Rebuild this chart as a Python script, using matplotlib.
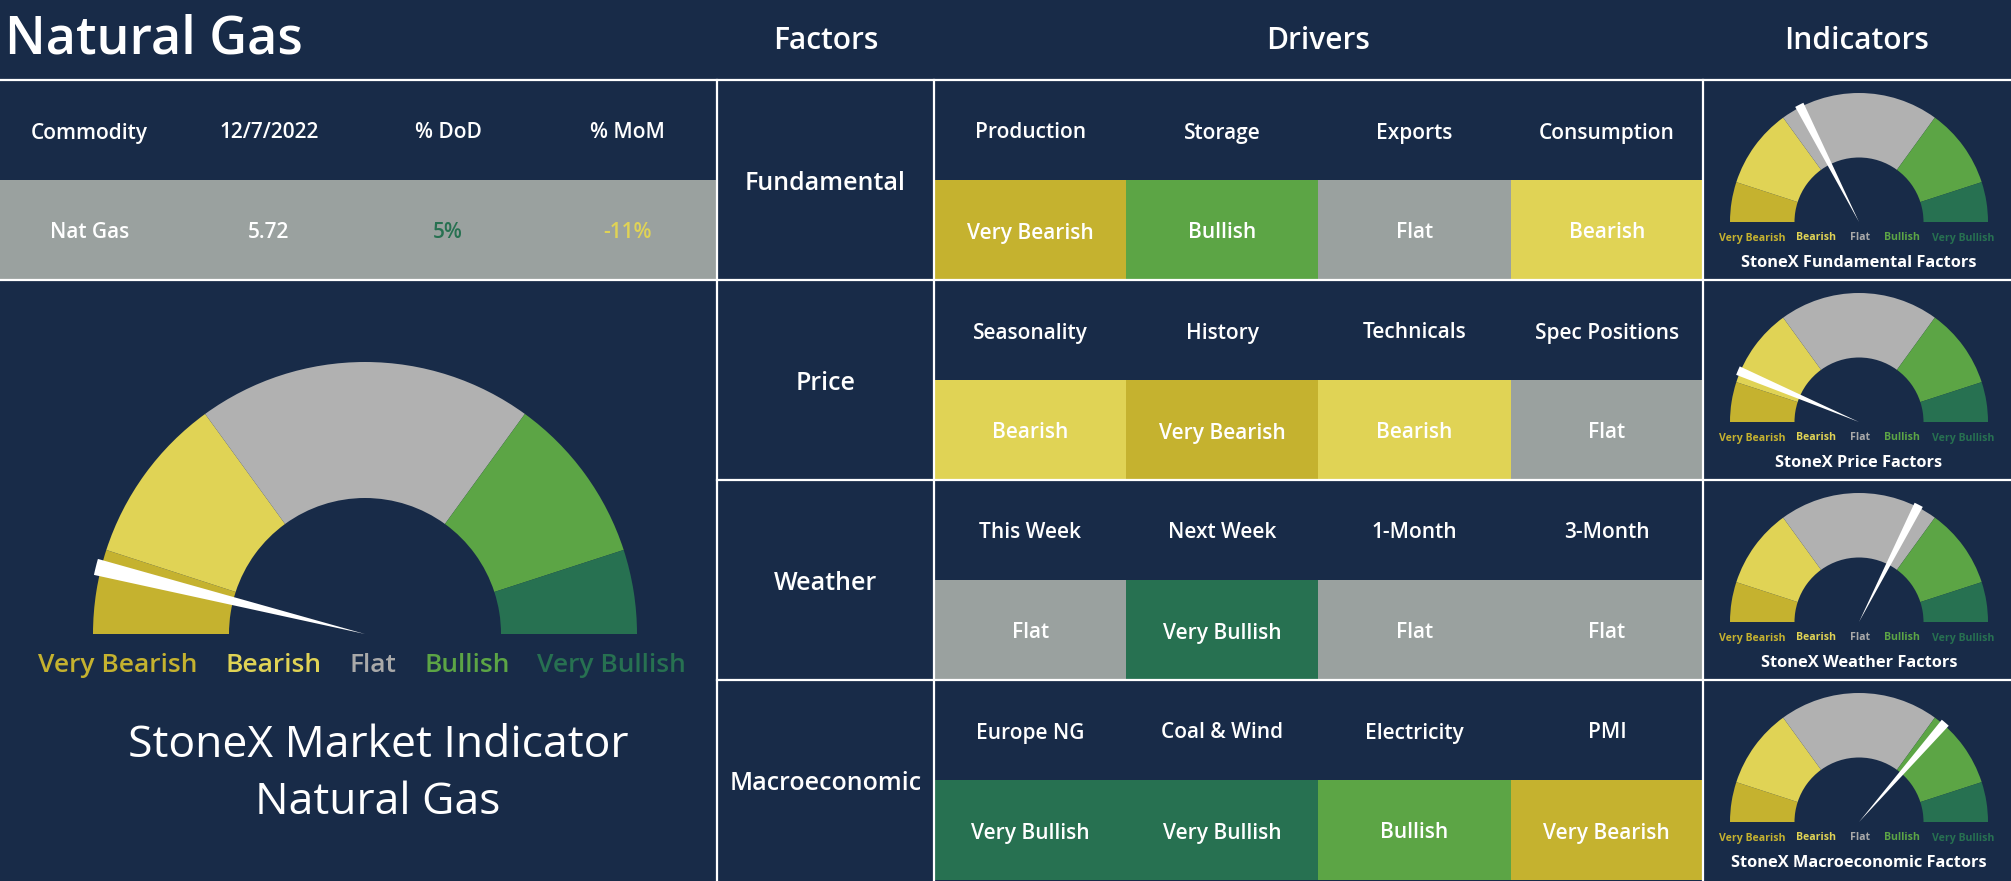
import matplotlib.pyplot as plt
from matplotlib.patches import Rectangle, Wedge

plt.rcParams['font.family'] = ['Open Sans', 'DejaVu Sans']

W, H = 2011, 881

title = "Natural Gas"
summary_headers = ["Commodity", "12/7/2022", "% DoD", "% MoM"]
summary_values = ["Nat Gas", "5.72", "5%", "-11%"]
section_headers = ["Factors", "Drivers", "Indicators"]
factors = ["Fundamental", "Price", "Weather", "Macroeconomic"]
drivers = [
    ["Production", "Storage", "Exports", "Consumption"],
    ["Seasonality", "History", "Technicals", "Spec Positions"],
    ["This Week", "Next Week", "1-Month", "3-Month"],
    ["Europe NG", "Coal & Wind", "Electricity", "PMI"],
]
ratings = [
    ["Very Bearish", "Bullish", "Flat", "Bearish"],
    ["Bearish", "Very Bearish", "Bearish", "Flat"],
    ["Flat", "Very Bullish", "Flat", "Flat"],
    ["Very Bullish", "Very Bullish", "Bullish", "Very Bearish"],
]
scale = ["Very Bearish", "Bearish", "Flat", "Bullish", "Very Bullish"]
scale_span = [18, 36, 72, 36, 18]      # degrees of the half dial
factor_needle = [63, 23, 117, 131]     # needle, degrees from the left end
market_needle = 14
indicator_titles = ["StoneX Fundamental Factors", "StoneX Price Factors",
                    "StoneX Weather Factors", "StoneX Macroeconomic Factors"]
market_title = "StoneX Market Indicator\nNatural Gas"

# ---- colours ----
NAVY = "#182B48"
cell_colors = {"Very Bearish": "#C5B22F", "Bearish": "#E0D355", "Flat": "#9AA19F",
               "Bullish": "#5CA545", "Very Bullish": "#277151"}
dial_colors = dict(cell_colors, Flat="#B1B1B1")
label_colors = dict(cell_colors, Flat="#A9A9A9")
value_colors = ["white", "white", "#277151", "#E0D355"]


def Y(y):
    return H - y


fig = plt.figure(figsize=(W / 100, H / 100), dpi=100, facecolor=NAVY)
ax = fig.add_axes([0, 0, 1, 1])
ax.set_xlim(0, W)
ax.set_ylim(0, H)
ax.axis('off')
ax.set_facecolor(NAVY)

x_left, x_fac, x_drv, x_ind = 0, 717, 934, 1703
col_w = (x_ind - x_drv) / 4
row_h = 200
top = 80
dy = 3  # small nudge so text sits where the reference has it

# title and section headers
ax.text(5, Y(40), title, color='white', fontsize=37.5, fontweight='semibold', va='center', ha='left')
for name, x in zip(section_headers, [(x_fac + x_drv) / 2, (x_drv + x_ind) / 2, (x_ind + W) / 2]):
    ax.text(x, Y(41), name, color='white', fontsize=21.5, fontweight='semibold', ha='center', va='center')

# summary table
ax.add_patch(Rectangle((0, Y(280)), x_fac, 100, facecolor=cell_colors["Flat"], edgecolor='none'))
sum_w = x_fac / 4
for i, (h, v) in enumerate(zip(summary_headers, summary_values)):
    cx = sum_w * (i + 0.5)
    ax.text(cx, Y(130 + dy), h, color='white', fontsize=15, fontweight='semibold', ha='center', va='center')
    ax.text(cx, Y(230 + dy), v, color=value_colors[i], fontsize=15, fontweight='semibold', ha='center', va='center')


def draw_dial(cx, cy, R, needle, label_dx, label_dy, label_size, half, weight):
    start = 180
    for name, span in zip(scale, scale_span):
        ax.add_patch(Wedge((cx, Y(cy)), R, start - span, start, width=R * 0.5,
                           facecolor=dial_colors[name], edgecolor='none'))
        start -= span
    theta = 180 - needle
    ax.add_patch(Wedge((cx, Y(cy)), R * 1.02, theta - half, theta + half,
                       facecolor='white', edgecolor='none'))
    for name, dx in zip(scale, label_dx):
        ax.text(cx + dx * R, Y(cy + label_dy), name, color=label_colors[name],
                fontsize=label_size, fontweight=weight, ha='center', va='center')


# overall market dial
draw_dial(365, 634, 272, market_needle, [-0.91, -0.335, 0.03, 0.375, 0.905], 31, 19, 1.7, 'semibold')
ax.text(378, Y(774), market_title, color='white', fontsize=32, fontweight='normal',
        ha='center', va='center', linespacing=1.38)

# factor rows
for r in range(4):
    rt = top + r * row_h
    ax.text((x_fac + x_drv) / 2, Y(rt + 100 + dy), factors[r], color='white', fontsize=18,
            fontweight='semibold', ha='center', va='center')
    for c in range(4):
        x0 = x_drv + c * col_w
        ax.add_patch(Rectangle((x0, Y(rt + 200)), col_w, 100, facecolor=cell_colors[ratings[r][c]],
                               edgecolor='none'))
        ax.text(x0 + col_w / 2, Y(rt + 50 + dy), drivers[r][c], color='white', fontsize=15,
                fontweight='semibold', ha='center', va='center')
        ax.text(x0 + col_w / 2, Y(rt + 150 + dy), ratings[r][c], color='white', fontsize=15,
                fontweight='semibold', ha='center', va='center')
    draw_dial(1859, rt + 142, 129, factor_needle[r], [-0.83, -0.33, 0.01, 0.33, 0.81], 16, 7.6, 2.0, 'bold')
    ax.text(1859, Y(rt + 183), indicator_titles[r], color='white', fontsize=11.8,
            fontweight='bold', ha='center', va='center')

# grid lines
lw = 1.6
ax.plot([0, W], [Y(top), Y(top)], color='white', lw=lw)
ax.plot([0, W], [Y(280), Y(280)], color='white', lw=lw)
for yy in (480, 680):
    ax.plot([x_fac, W], [Y(yy), Y(yy)], color='white', lw=lw)
for xx in (x_fac, x_drv, x_ind):
    ax.plot([xx, xx], [Y(top), 0], color='white', lw=lw)

fig.savefig("out.png", dpi=100, facecolor=NAVY)
